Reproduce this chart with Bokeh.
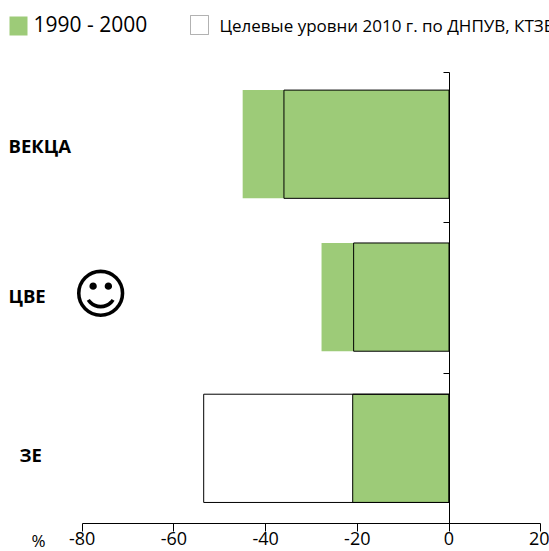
from bokeh.plotting import figure
from bokeh.embed import file_html
from bokeh.resources import INLINE
from bokeh.models import Range1d, LinearAxis, FixedTicker, Label, BoxAnnotation

categories = ["ВЕКЦА", "ЦВЕ", "ЗЕ"]
centers = [2.523, 1.506, 0.5]
period_1990_2000 = [-45, -27.8, -21]
targets_2010 = [-36, -20.8, -53.5]
x_ticks = [-80, -60, -40, -20, 0, 20]
y_ticks = [0, 1, 2, 3]
series_names = ["1990 - 2000", "Целевые уровни 2010 г. по ДНПУВ, КТЗВ"]
GREEN = "#9dcb78"
FONT = "Open Sans"
W, H = 549, 551
BAR_H = 0.72

def sy(py):
    return H - py

p = figure(width=W, height=H, output_backend="svg", toolbar_location=None,
           x_range=Range1d(-448.5 / 4.585, (549 - 448.5) / 4.585),
           y_range=Range1d(-(551 - 523) / 150.33, 523 / 150.33),
           x_axis_type=None, y_axis_type=None,
           min_border_left=0, min_border_right=0, min_border_top=0, min_border_bottom=0)
p.outline_line_color = None
p.grid.visible = False
p.background_fill_color = "white"

p.hbar(y=centers, right=0, left=period_1990_2000, height=BAR_H, fill_color=GREEN, line_color=None)
p.hbar(y=[centers[2]], right=0, left=[period_1990_2000[2]], height=BAR_H, fill_color=GREEN, line_color="black", line_width=1)
p.hbar(y=centers, right=0, left=targets_2010, height=BAR_H, fill_color=None, line_color="black", line_width=1)

xa = LinearAxis(ticker=FixedTicker(ticks=x_ticks), bounds=(-80, 20), fixed_location=0)
xa.axis_line_color = "black"
xa.major_tick_line_color = "black"
xa.major_tick_in = 0
xa.major_tick_out = 8
xa.minor_tick_line_color = None
xa.major_label_overrides = {t: str(t) for t in x_ticks}
xa.major_label_text_font = FONT
xa.major_label_text_font_size = "18px"
xa.major_label_text_color = "black"
xa.major_label_standoff = 0
p.add_layout(xa, "below")

ya = LinearAxis(ticker=FixedTicker(ticks=y_ticks), bounds=(0, 3), fixed_location=0)
ya.axis_line_color = "black"
ya.major_tick_line_color = "black"
ya.major_tick_in = 0
ya.major_tick_out = 6
ya.minor_tick_line_color = None
ya.major_label_overrides = {t: "" for t in y_ticks}
p.add_layout(ya, "left")

def add_label(text, px, py, size, bold=False, font=FONT):
    p.add_layout(Label(x=px, y=sy(py), x_units="screen", y_units="screen", text=text,
                       text_font=font, text_font_size=size, text_color="black",
                       text_baseline="middle", text_align="left",
                       text_font_style="bold" if bold else "normal"))

for name, px, py in zip(categories, [8, 8, 19], [145, 295, 454]):
    add_label(name, px, py, "18.5px", bold=True)

add_label("%", 31, 540, "17px")
add_label("☺", 72, 294, "54px", font="DejaVu Sans")

p.add_layout(BoxAnnotation(left=9, right=27, top=sy(16), bottom=sy(35),
                           left_units="screen", right_units="screen", top_units="screen", bottom_units="screen",
                           fill_color=GREEN, fill_alpha=1, line_color=None))
p.add_layout(BoxAnnotation(left=190, right=208, top=sy(15), bottom=sy(34),
                           left_units="screen", right_units="screen", top_units="screen", bottom_units="screen",
                           fill_color="white", fill_alpha=1, line_color="black", line_width=1))
add_label(series_names[0], 33, 23, "21px")
add_label(series_names[1], 219, 25, "17px")

open("out.html", "w").write(file_html(p, INLINE))
